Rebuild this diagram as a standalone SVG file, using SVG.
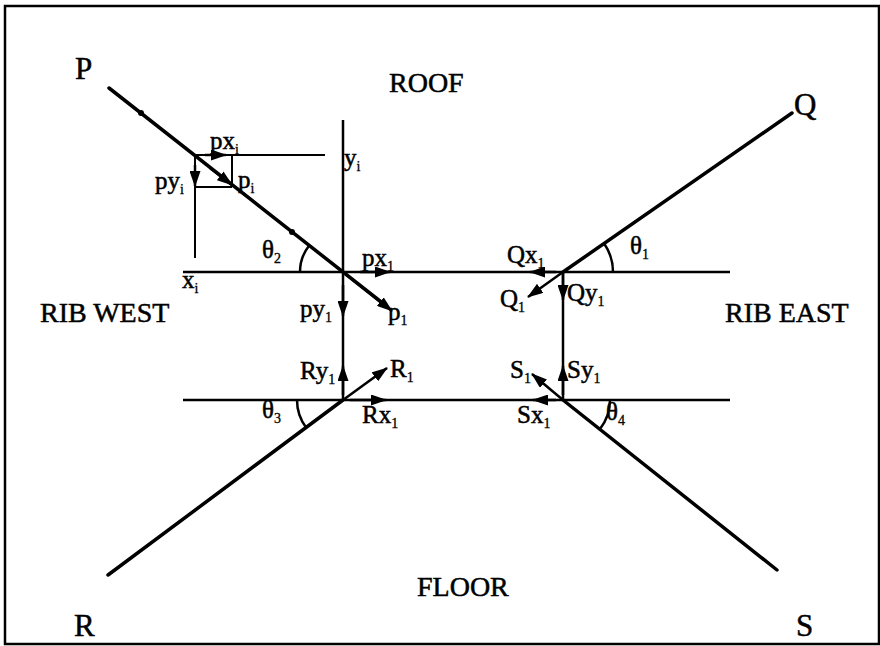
<svg xmlns="http://www.w3.org/2000/svg" width="880" height="646" viewBox="0 0 880 646">
<style>
text{font-family:"Liberation Serif","Times New Roman",serif;fill:#000;stroke:#000;stroke-width:0.5}
.big{font-size:28px}
.let{font-size:31px}
.lbl{font-size:25px}
.sub{font-size:14px;stroke-width:0.3}
.thick{stroke:#000;stroke-width:3.5;fill:none;stroke-linecap:round}
.axis{stroke:#000;stroke-width:2.5;fill:none}
.thin{stroke:#000;stroke-width:2;fill:none}
.arr{stroke:#000;stroke-width:2.5;fill:none;marker-end:url(#ah)}
.arc{stroke:#000;stroke-width:2.5;fill:none}
</style>
<defs>
<marker id="ah" markerWidth="16" markerHeight="11" refX="15" refY="5.5" orient="auto" markerUnits="userSpaceOnUse">
<path d="M0,0 L16,5.5 L0,11 z" fill="#000"/>
</marker>
</defs>
<rect x="5" y="6" width="874" height="638" fill="#fff" stroke="#000" stroke-width="2.5"/>

<g id="axes">
<line class="axis" x1="183" y1="272" x2="730" y2="272"/>
<line class="axis" x1="183" y1="400" x2="730" y2="400"/>
<line class="axis" x1="343" y1="120" x2="343" y2="400"/>
<line class="axis" x1="563" y1="272" x2="563" y2="400"/>
</g>

<g id="connectors">
<line class="thick" x1="109" y1="88" x2="385" y2="305"/>
<line class="thick" x1="563" y1="272" x2="792" y2="113"/>
<line class="thick" x1="343" y1="400" x2="108" y2="575"/>
<line class="thick" x1="563" y1="400" x2="777" y2="570"/>
<circle cx="141" cy="113" r="3" fill="#000"/>
<circle cx="292" cy="232" r="3" fill="#000"/>
<line class="thin" x1="195" y1="155" x2="325" y2="155"/>
<line class="thin" x1="195" y1="155" x2="195" y2="258"/>
<line class="thin" x1="232" y1="155" x2="232" y2="187"/>
<line class="thin" x1="195" y1="187" x2="232" y2="187"/>
<path class="arr" d="M205,155 L226,155"/>
<path class="arr" d="M195,165 L195,186"/>
<path class="arr" d="M210,168 L232,185"/>
<path class="arc" d="M300,272 A43,43 0 0 1 309.2,245.4"/>
<path class="arc" d="M613,272 A50,50 0 0 0 604.1,243.5"/>
<path class="arc" d="M297,400 A46,46 0 0 0 306.1,427.5"/>
<path class="arc" d="M610,400 A47,47 0 0 1 599.8,429.2"/>
<path class="arr" d="M360,272 L390,272"/>
<path class="arr" d="M343,285 L343,316"/>
<path class="arr" d="M343,272 L392,311"/>
<path class="arr" d="M343,395 L343,366"/>
<path class="arr" d="M343,400 L387,368"/>
<path class="arr" d="M350,400 L386,400"/>
<path class="arr" d="M556,272 L530,272"/>
<path class="arr" d="M563,272 L528,297"/>
<path class="arr" d="M563,272 L563,300"/>
<path class="arr" d="M563,395 L563,366"/>
<path class="arr" d="M563,400 L532,374"/>
<path class="arr" d="M556,400 L533,400"/>
</g>

<g id="labels">
<text class="let" x="75" y="79">P</text>
<text class="big" x="389" y="92">ROOF</text>
<text class="let" x="794" y="115">Q</text>
<text class="big" x="40" y="322">RIB WEST</text>
<text class="big" x="725" y="322">RIB EAST</text>
<text class="big" x="417" y="596">FLOOR</text>
<text class="let" x="74" y="636">R</text>
<text class="let" x="796" y="636">S</text>

<text class="lbl" x="210" y="149">px<tspan class="sub" dy="5">i</tspan></text>
<text class="lbl" x="155" y="189">py<tspan class="sub" dy="5">i</tspan></text>
<text class="lbl" x="238" y="188">p<tspan class="sub" dy="5">i</tspan></text>
<text class="lbl" x="344" y="166">y<tspan class="sub" dy="5">i</tspan></text>
<text class="lbl" x="182" y="288">x<tspan class="sub" dy="5">i</tspan></text>
<text class="lbl" x="262" y="258">θ<tspan class="sub" dy="5">2</tspan></text>
<text class="lbl" x="362" y="266">px<tspan class="sub" dy="5">1</tspan></text>
<text class="lbl" x="300" y="317">py<tspan class="sub" dy="5">1</tspan></text>
<text class="lbl" x="388" y="320">p<tspan class="sub" dy="5">1</tspan></text>
<text class="lbl" x="300" y="379">Ry<tspan class="sub" dy="5">1</tspan></text>
<text class="lbl" x="390" y="377">R<tspan class="sub" dy="5">1</tspan></text>
<text class="lbl" x="362" y="423">Rx<tspan class="sub" dy="5">1</tspan></text>
<text class="lbl" x="262" y="418">θ<tspan class="sub" dy="5">3</tspan></text>
<text class="lbl" x="507" y="263">Qx<tspan class="sub" dy="5">1</tspan></text>
<text class="lbl" x="630" y="254">θ<tspan class="sub" dy="5">1</tspan></text>
<text class="lbl" x="500" y="307">Q<tspan class="sub" dy="5">1</tspan></text>
<text class="lbl" x="567" y="301">Qy<tspan class="sub" dy="5">1</tspan></text>
<text class="lbl" x="510" y="378">S<tspan class="sub" dy="5">1</tspan></text>
<text class="lbl" x="567" y="378">Sy<tspan class="sub" dy="5">1</tspan></text>
<text class="lbl" x="517" y="423">Sx<tspan class="sub" dy="5">1</tspan></text>
<text class="lbl" x="606" y="420">θ<tspan class="sub" dy="5">4</tspan></text>
</g>
</svg>
